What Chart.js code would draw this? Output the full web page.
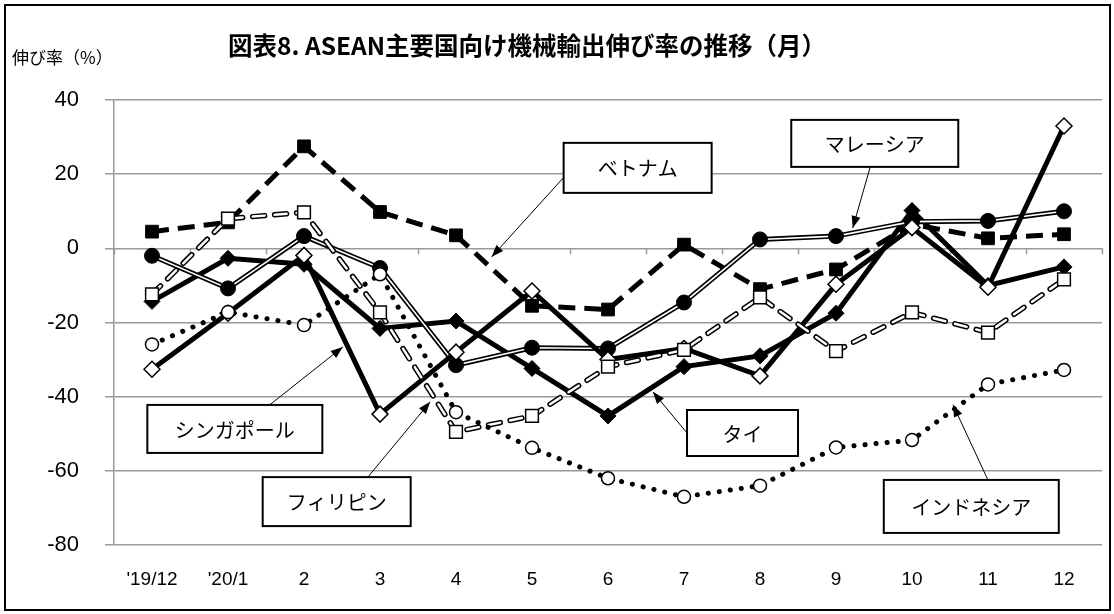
<!DOCTYPE html>
<html>
<head>
<meta charset="utf-8">
<script src="https://cdn.jsdelivr.net/npm/chart.js@4.4.1/dist/chart.umd.min.js"></script>
<style>
  html, body { margin: 0; padding: 0; background: #fff; }
  #wrap { width: 1114px; height: 614px; }
</style>
</head>
<body>
<div id="wrap"><canvas id="myChart" width="1114" height="614"></canvas></div>
<script>
// data
const months = ["'19/12", "'20/1", '2', '3', '4', '5', '6', '7', '8', '9', '10', '11', '12'];
const vietnam = [4.5, 7, 27.5, 9.8, 3.5, -15.5, -16.5, 1, -11, -5.7, 6.5, 2.7, 3.8];
const malaysia = [-2, -10.8, 3.3, -5.3, -31.5, -26.8, -27, -14.6, 2.4, 3.3, 7.2, 7.4, 10];
const thailand = [-14.3, -2.7, -4.3, -21.6, -19.6, -32.4, -45.2, -31.9, -29, -17.5, 10.2, -10, -5];
const singapore = [-32.6, -17.5, -1.9, -44.7, -28, -11.5, -30, -27, -34.4, -9.7, 5.6, -10.5, 33];
const philippines = [-12.4, 8, 9.7, -17.3, -49.5, -45.2, -31.9, -27.4, -13.2, -27.7, -17.3, -22.7, -8.4];
const indonesia = [-25.9, -17.2, -20.7, -7, -44.2, -53.8, -62, -67, -64, -53.7, -51.7, -36.7, -32.8];
const yTicks = [40, 20, 0, -20, -40, -60, -80];

const titleText = '図表8. ASEAN主要国向け機械輸出伸び率の推移（月）';
const yTitle = '伸び率（%）';

// callout boxes: box centre, arrow start and tip in (category index, value)
const callouts = [
  { text: 'ベトナム', box: [6.39, 21.7], w: 148, h: 50, from: [5.42, 19.2], to: [4.47, -2.3] },
  { text: 'マレーシア', box: [9.51, 28.3], w: 167, h: 47, from: [9.45, 21.9], to: [9.22, 5.5] },
  { text: 'シンガポール', box: [1.09, -48.7], w: 175, h: 48, from: [1.55, -42.2], to: [2.51, -26.6] },
  { text: 'フィリピン', box: [2.43, -68.3], w: 148, h: 49, from: [2.84, -61.7], to: [3.66, -41.4] },
  { text: 'タイ', box: [7.77, -49.8], w: 111, h: 46, from: [7.04, -49.8], to: [6.59, -38.7] },
  { text: 'インドネシア', box: [10.78, -69.6], w: 175, h: 53, from: [11.0, -62.5], to: [10.54, -42.2] }
];

const jp = "'Noto Sans CJK JP', sans-serif";
const num = "'Liberation Sans', Arial, sans-serif";

const decor = {
  id: 'decor',
  beforeDatasetsDraw(chart) {
    const ctx = chart.ctx;
    const x = chart.scales.x, y = chart.scales.y;
    const y0 = y.getPixelForValue(0);
    ctx.save();
    ctx.strokeStyle = '#999';
    ctx.lineWidth = 1.5;
    for (let k = 0; k <= months.length; k++) {
      const px = Math.round(x.getPixelForValue(k - 0.5)) + 0.5;
      ctx.beginPath();
      ctx.moveTo(px, y0);
      ctx.lineTo(px, y0 + 6);
      ctx.stroke();
    }
    ctx.restore();
  },
  afterDraw(chart) {
    const ctx = chart.ctx;
    const x = chart.scales.x, y = chart.scales.y;
    ctx.save();

    for (const c of callouts) {
      const cx = x.getPixelForValue(c.box[0]);
      const cy = y.getPixelForValue(c.box[1]);
      const fx = x.getPixelForValue(c.from[0]), fy = y.getPixelForValue(c.from[1]);
      const tx = x.getPixelForValue(c.to[0]), ty = y.getPixelForValue(c.to[1]);
      // arrow
      ctx.strokeStyle = '#000';
      ctx.fillStyle = '#000';
      ctx.lineWidth = 1;
      ctx.beginPath();
      ctx.moveTo(fx, fy);
      ctx.lineTo(tx, ty);
      ctx.stroke();
      const a = Math.atan2(ty - fy, tx - fx);
      ctx.beginPath();
      ctx.moveTo(tx, ty);
      ctx.lineTo(tx - 12 * Math.cos(a) + 4.5 * Math.sin(a), ty - 12 * Math.sin(a) - 4.5 * Math.cos(a));
      ctx.lineTo(tx - 12 * Math.cos(a) - 4.5 * Math.sin(a), ty - 12 * Math.sin(a) + 4.5 * Math.cos(a));
      ctx.closePath();
      ctx.fill();
      // box
      ctx.fillStyle = '#fff';
      ctx.fillRect(cx - c.w / 2, cy - c.h / 2, c.w, c.h);
      ctx.lineWidth = 2;
      ctx.strokeRect(cx - c.w / 2, cy - c.h / 2, c.w, c.h);
      ctx.fillStyle = '#000';
      ctx.font = '20px ' + jp;
      ctx.textAlign = 'center';
      ctx.textBaseline = 'middle';
      ctx.fillText(c.text, cx, cy + 1);
    }

    // title and y axis caption
    ctx.fillStyle = '#000';
    ctx.textAlign = 'center';
    ctx.textBaseline = 'middle';
    ctx.font = 'bold 24.5px ' + jp;
    ctx.fillText(titleText, 527, 46);
    ctx.textAlign = 'left';
    ctx.font = '17px ' + jp;
    ctx.fillText(yTitle, 12, 58);

    // outer frame
    ctx.lineWidth = 2;
    ctx.strokeStyle = '#000';
    ctx.strokeRect(5, 5, 1105, 605);
    ctx.restore();
  }
};

function initChart() {
  const ctx = document.getElementById('myChart').getContext('2d');
  const none = { pointRadius: 0, pointHoverRadius: 0 };

  // eslint-disable-next-line no-undef
  const chart = new Chart(ctx, {
    type: 'line',
    data: {
      labels: months,
      datasets: [
        {
          label: 'インドネシア', data: indonesia, order: 1,
          borderColor: '#000', borderWidth: 5, borderDash: [0.1, 11], borderCapStyle: 'round',
          pointStyle: 'circle', pointRadius: 6.5, pointBackgroundColor: '#fff', pointBorderColor: '#000', pointBorderWidth: 1.5
        },
        {
          label: 'フィリピン', data: philippines, order: 2.1,
          borderColor: '#fff', borderWidth: 2.5, borderDash: [12, 10], borderCapStyle: 'round',
          pointStyle: 'rect', pointRadius: 9, pointBackgroundColor: '#fff', pointBorderColor: '#000', pointBorderWidth: 1.5
        },
        Object.assign({
          label: 'フィリピン_outline', data: philippines, order: 2.2,
          borderColor: '#000', borderWidth: 5.5, borderDash: [12, 10], borderCapStyle: 'round'
        }, none),
        {
          label: 'シンガポール', data: singapore, order: 3,
          borderColor: '#000', borderWidth: 5,
          pointStyle: 'rectRot', pointRadius: 8, pointBackgroundColor: '#fff', pointBorderColor: '#000', pointBorderWidth: 1.5
        },
        {
          label: 'マレーシア', data: malaysia, order: 4.1, showLine: false,
          pointStyle: 'circle', pointRadius: 7.5, pointBackgroundColor: '#000', pointBorderColor: '#000', pointBorderWidth: 1
        },
        Object.assign({
          label: 'マレーシア_inner', data: malaysia, order: 4.2,
          borderColor: '#fff', borderWidth: 1.6
        }, none),
        Object.assign({
          label: 'マレーシア_outer', data: malaysia, order: 4.3,
          borderColor: '#000', borderWidth: 5
        }, none),
        {
          label: 'タイ', data: thailand, order: 5,
          borderColor: '#000', borderWidth: 5,
          pointStyle: 'rectRot', pointRadius: 8, pointBackgroundColor: '#000', pointBorderColor: '#000', pointBorderWidth: 1
        },
        {
          label: 'ベトナム', data: vietnam, order: 6,
          borderColor: '#000', borderWidth: 5, borderDash: [17, 9],
          pointStyle: 'rect', pointRadius: 9, pointBackgroundColor: '#000', pointBorderColor: '#000', pointBorderWidth: 1
        }
      ]
    },
    options: {
      responsive: false,
      animation: false,
      events: [],
      layout: { padding: { top: 100, right: 12, bottom: 0, left: 0 } },
      plugins: { legend: { display: false }, tooltip: { enabled: false }, title: { display: false } },
      elements: { line: { tension: 0, fill: false } },
      scales: {
        x: {
          offset: true,
          grid: { display: false, drawTicks: false },
          border: { display: false },
          ticks: { color: '#000', font: { family: num, size: 19 }, padding: 23, maxRotation: 0, autoSkip: false },
          afterFit(scale) { scale.height = 69; }
        },
        y: {
          min: -80, max: 40,
          afterBuildTicks(scale) { scale.ticks = yTicks.map(v => ({ value: v })); },
          grid: { color: '#999', lineWidth: 1.5, tickLength: 9 },
          border: { color: '#999', width: 1.5 },
          ticks: { color: '#000', font: { family: num, size: 22 }, padding: 26 },
          afterFit(scale) { scale.width = 114; }
        }
      }
    },
    plugins: [decor]
  });
  return chart;
}

initChart();
</script>
</body>
</html>
